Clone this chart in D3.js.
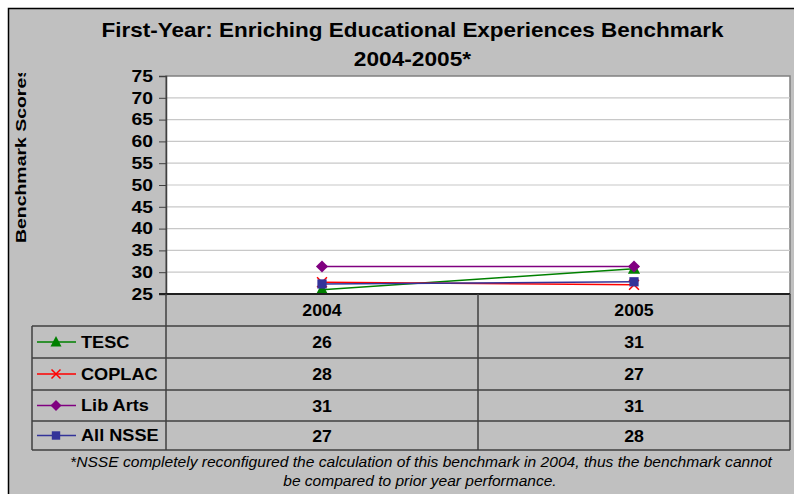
<!DOCTYPE html>
<html>
<head>
<meta charset="utf-8">
<script src="https://cdn.jsdelivr.net/npm/d3@7"></script>
<style>
    body { margin: 0; background: #ffffff; }
    svg { display: block; font-family: "Liberation Sans", Arial, sans-serif; }
</style>
</head>
<body>
<div id="chart"></div>
<script>

var years = [ '2004', '2005' ];
var seriesNames = [ 'TESC', 'COPLAC', 'Lib Arts', 'All NSSE' ];
var tescValues = [ 26.0, 30.8 ];
var coplacValues = [ 27.7, 27.1 ];
var libArtsValues = [ 31.3, 31.3 ];
var nsseValues = [ 27.3, 27.8 ];
var yTicks = [ 25, 30, 35, 40, 45, 50, 55, 60, 65, 70, 75 ];

var seriesValues = [ tescValues, coplacValues, libArtsValues, nsseValues ];
var seriesColors = [ '#008000', '#ff0000', '#800080', '#333399' ];
var seriesSymbols = [ 'triangle', 'x', 'diamond', 'square' ];

var width = 794,
    height = 494;

var plot = { left: 166, top: 76, right: 790, bottom: 294 };
var rowEdges = [ 294, 326, 358, 390, 421, 450 ];
var tableLeft = 32;

// the original Excel text renders wider than Liberation, stretch it a bit
function widen ( sel, k ) {

    sel.each( function () {

        var w = this.getComputedTextLength();
        d3.select( this )
            .attr('textLength', w * k)
            .attr('lengthAdjust', 'spacingAndGlyphs');

    });

}

var svg = d3.select('#chart').append('svg')
    .attr('width', width)
    .attr('height', height);

// chart area background + frame
svg.append('rect')
    .attr('x', 8).attr('y', 8)
    .attr('width', width - 8).attr('height', height - 8)
    .style('fill', '#c0c0c0');

svg.append('path')
    .attr('d', 'M8.5,' + height + 'V8.5H' + width)
    .style('fill', 'none')
    .style('stroke', '#000')
    .style('stroke-width', 1.5);

// title
svg.append('text')
    .attr('x', 412.5).attr('y', 37)
    .attr('text-anchor', 'middle')
    .style('font-size', '21px')
    .style('font-weight', 'bold')
    .text('First-Year: Enriching Educational Experiences Benchmark')
    .call( widen, 1.07 );

svg.append('text')
    .attr('x', 412.5).attr('y', 66)
    .attr('text-anchor', 'middle')
    .style('font-size', '21px')
    .style('font-weight', 'bold')
    .text('2004-2005*')
    .call( widen, 1.08 );

var x = d3.scaleBand()
    .domain( years )
    .range([ plot.left, plot.right ]);

var y = d3.scaleLinear()
    .domain([ 25, 75 ])
    .range([ plot.bottom, plot.top ]);

// plot background
svg.append('rect')
    .attr('x', plot.left).attr('y', plot.top)
    .attr('width', plot.right - plot.left)
    .attr('height', plot.bottom - plot.top)
    .style('fill', '#ffffff')
    .style('stroke', '#808080')
    .style('stroke-width', 1.5);

// gridlines
svg.append('g')
    .selectAll('line')
    .data( yTicks.filter( function ( t ) { return t > 25 && t < 75; } ) )
    .enter().append('line')
    .attr('x1', plot.left).attr('x2', plot.right)
    .attr('y1', function ( d ) { return y( d ); })
    .attr('y2', function ( d ) { return y( d ); })
    .style('stroke', '#c8c8c8')
    .style('stroke-width', 1.2);

// y axis
var yAxis = d3.axisLeft( y )
    .tickValues( yTicks )
    .tickSize( 7 )
    .tickPadding( 6 );

var ya = svg.append('g')
    .attr('transform', 'translate(' + plot.left + ',0)')
    .call( yAxis );

ya.select('.domain').style('stroke', '#404040').style('stroke-width', 1.5);
ya.selectAll('.tick line').style('stroke', '#404040');
ya.selectAll('.tick text')
    .style('font-size', '16.5px')
    .style('font-weight', 'bold')
    .style('font-family', '"Liberation Sans", Arial, sans-serif')
    .style('fill', '#000')
    .call( widen, 1.17 );

// y axis title (clipped at the plot top as in the original)
svg.append('clipPath')
    .attr('id', 'ytitle-clip')
    .append('rect')
    .attr('x', 0).attr('y', 73)
    .attr('width', 60).attr('height', 300);

svg.append('g')
    .attr('clip-path', 'url(#ytitle-clip)')
    .append('text')
    .attr('transform', 'translate(25.5,243) rotate(-90)')
    .style('font-size', '15px')
    .style('font-weight', 'bold')
    .attr('textLength', 176)
    .attr('lengthAdjust', 'spacingAndGlyphs')
    .text('Benchmark Scores');

// lines
var line = d3.line()
    .x( function ( d, i ) { return x( years[ i ] ) + x.bandwidth() / 2; })
    .y( function ( d ) { return y( d ); });

function drawSymbol ( g, type, cx, cy, color, s ) {

    if ( type === 'triangle' ) {

        g.append('path')
            .attr('d', 'M' + cx + ',' + ( cy - s * 0.6 ) + 'L' + ( cx + s * 0.55 ) + ',' + ( cy + s * 0.45 ) + 'L' + ( cx - s * 0.55 ) + ',' + ( cy + s * 0.45 ) + 'Z')
            .style('fill', color);

    } else if ( type === 'x' ) {

        var h = s * 0.45;
        g.append('path')
            .attr('d', 'M' + ( cx - h ) + ',' + ( cy - h ) + 'L' + ( cx + h ) + ',' + ( cy + h ) + 'M' + ( cx + h ) + ',' + ( cy - h ) + 'L' + ( cx - h ) + ',' + ( cy + h ))
            .style('stroke', color)
            .style('stroke-width', 1.5);

    } else if ( type === 'diamond' ) {

        var d = s * 0.55;
        g.append('path')
            .attr('d', 'M' + cx + ',' + ( cy - d ) + 'L' + ( cx + d ) + ',' + cy + 'L' + cx + ',' + ( cy + d ) + 'L' + ( cx - d ) + ',' + cy + 'Z')
            .style('fill', color);

    } else {

        var q = s * 0.42;
        g.append('rect')
            .attr('x', cx - q).attr('y', cy - q)
            .attr('width', q * 2).attr('height', q * 2)
            .style('fill', color);

    }

}

var seriesG = svg.append('g');

seriesValues.forEach( function ( vals, k ) {

    seriesG.append('path')
        .datum( vals )
        .attr('d', line)
        .style('fill', 'none')
        .style('stroke', seriesColors[ k ])
        .style('stroke-width', 1.5);

});

seriesValues.forEach( function ( vals, k ) {

    vals.forEach( function ( v, i ) {

        drawSymbol( seriesG, seriesSymbols[ k ], x( years[ i ] ) + x.bandwidth() / 2, y( v ), seriesColors[ k ], 11 );

    });

});

// bottom axis line
svg.append('line')
    .attr('x1', plot.left - 7).attr('x2', plot.right)
    .attr('y1', plot.bottom).attr('y2', plot.bottom)
    .style('stroke', '#202020')
    .style('stroke-width', 2);

// data table
var table = svg.append('g');

// horizontal row lines
table.selectAll('.row-line')
    .data( rowEdges.slice( 1 ) )
    .enter().append('line')
    .attr('x1', tableLeft)
    .attr('x2', plot.right)
    .attr('y1', function ( d ) { return d; })
    .attr('y2', function ( d ) { return d; })
    .style('stroke', function ( d, i ) { return i === rowEdges.length - 2 ? '#404040' : '#000'; })
    .style('stroke-width', function ( d, i ) { return i === rowEdges.length - 2 ? 1.5 : 1; });

// vertical lines
table.append('line')
    .attr('x1', tableLeft).attr('x2', tableLeft)
    .attr('y1', rowEdges[ 1 ]).attr('y2', rowEdges[ rowEdges.length - 1 ])
    .style('stroke', '#404040').style('stroke-width', 1.5);

[ plot.left, x( years[ 1 ] ), plot.right ].forEach( function ( xx ) {

    table.append('line')
        .attr('x1', xx).attr('x2', xx)
        .attr('y1', plot.bottom).attr('y2', rowEdges[ rowEdges.length - 1 ])
        .style('stroke', '#404040')
        .style('stroke-width', 1.5);

});

// header years
table.selectAll('.year')
    .data( years )
    .enter().append('text')
    .attr('x', function ( d ) { return x( d ) + x.bandwidth() / 2; })
    .attr('y', ( rowEdges[ 0 ] + rowEdges[ 1 ] ) / 2)
    .attr('dy', '0.36em')
    .attr('text-anchor', 'middle')
    .style('font-size', '17px')
    .style('font-weight', 'bold')
    .text( function ( d ) { return d; })
    .call( widen, 1.04 );

// rows: legend key + values
seriesNames.forEach( function ( name, k ) {

    var cy = ( rowEdges[ k + 1 ] + rowEdges[ k + 2 ] ) / 2;

    table.append('line')
        .attr('x1', 37).attr('x2', 76)
        .attr('y1', cy).attr('y2', cy)
        .style('stroke', seriesColors[ k ])
        .style('stroke-width', 1.5);

    drawSymbol( table, seriesSymbols[ k ], 56, cy, seriesColors[ k ], 10 );

    table.append('text')
        .attr('x', 81).attr('y', cy)
        .attr('dy', '0.36em')
        .style('font-size', '16.5px')
        .style('font-weight', 'bold')
        .text( name )
        .call( widen, 1.1 );

    seriesValues[ k ].forEach( function ( v, i ) {

        table.append('text')
            .attr('x', x( years[ i ] ) + x.bandwidth() / 2)
            .attr('y', cy)
            .attr('dy', '0.36em')
            .attr('text-anchor', 'middle')
            .style('font-size', '17px')
            .style('font-weight', 'bold')
            .text( Math.round( v ) )
            .call( widen, 1.04 );

    });

});

// footnote
svg.append('text')
    .attr('x', 421).attr('y', 467)
    .attr('text-anchor', 'middle')
    .style('font-size', '14.5px')
    .style('font-style', 'italic')
    .text('*NSSE completely reconfigured the calculation of this benchmark in 2004, thus the benchmark cannot')
    .call( widen, 1.075 );

svg.append('text')
    .attr('x', 420).attr('y', 486)
    .attr('text-anchor', 'middle')
    .style('font-size', '14.5px')
    .style('font-style', 'italic')
    .text('be compared to prior year performance.')
    .call( widen, 1.07 );

</script>
</body>
</html>
